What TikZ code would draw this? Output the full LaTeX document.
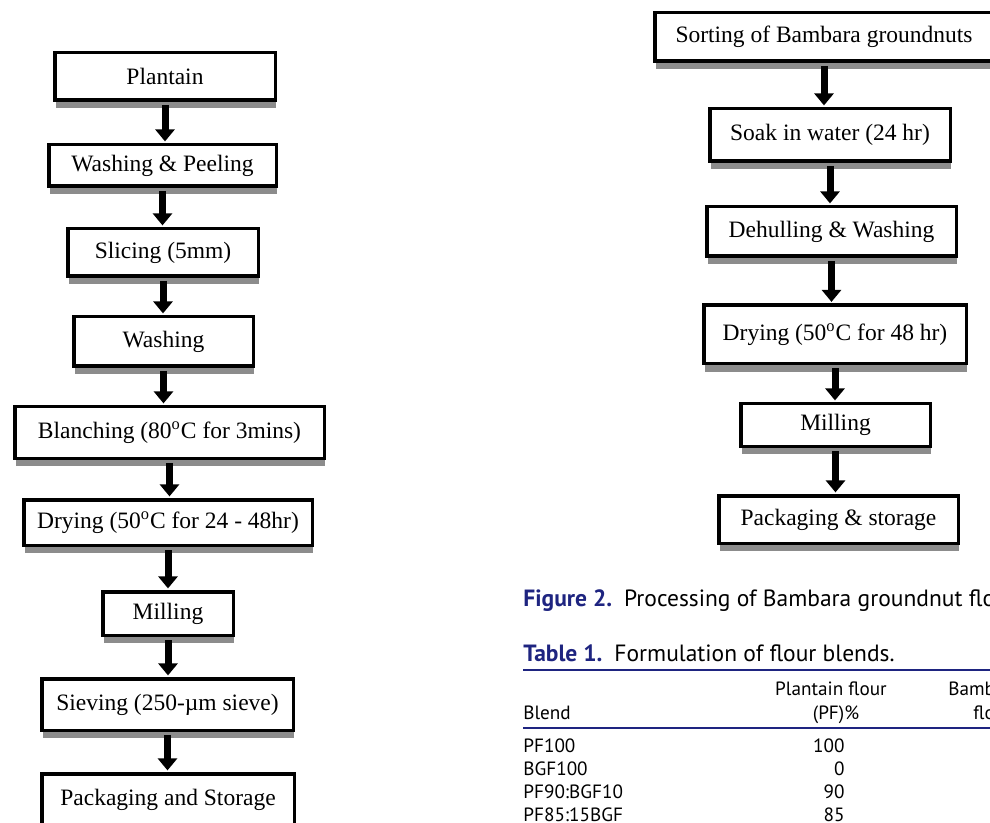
\documentclass[tikz,border=0pt]{standalone}
\usepackage{fontspec}
\setmainfont{Liberation Serif}
\newfontfamily\capfont{PT Sans}
\usetikzlibrary{arrows.meta,shadows}
\definecolor{capblue}{RGB}{30,36,128}

\begin{document}
\begin{tikzpicture}[x=0.5pt,y=-0.5pt,
    box/.style={draw,line width=1.75pt,fill=white,inner sep=0pt,font=\fontsize{11.75}{14}\selectfont,
        drop shadow={shadow xshift=0.5pt,shadow yshift=-4pt,fill=black!45,opacity=1}},
    flow/.style={line width=3.5pt,-{Triangle[width=9.5pt,length=6pt]},shorten <=1.5pt,shorten >=0.8pt},
    captext/.style={font=\capfont\fontsize{11.75}{14}\selectfont,anchor=base west,inner sep=0pt},
    tab/.style={font=\capfont\fontsize{9.6}{12}\selectfont,inner sep=0pt},
    rule/.style={draw=capblue,line width=0.8pt}]
    \useasboundingbox (0,0) rectangle (990,823);
    \clip (0,0) rectangle (990,823);
    % plantain flour
    \node[box,minimum width=110.25pt,minimum height=23.75pt] (plantain) at (165,76.5) {Plantain};
    \node[box,minimum width=113.75pt,minimum height=20.75pt] (washpeel) at (162.5,165.5) {Washing \& Peeling};
    \node[box,minimum width=95.25pt,minimum height=23.75pt] (slicing) at (163,252.5) {Slicing (5mm)};
    \node[box,minimum width=89.75pt,minimum height=24.75pt] (washing) at (163.5,341.5) {Washing};
    \node[box,minimum width=154.75pt,minimum height=25.75pt] (blanching) at (169.5,432.5) {Blanching (80\textsuperscript{o}C for 3mins)};
    \node[box,minimum width=144.25pt,minimum height=22.75pt] (drying) at (168,522.5) {Drying (50\textsuperscript{o}C for 24 - 48hr)};
    \node[box,minimum width=65.25pt,minimum height=21.75pt] (milling) at (168,613.5) {Milling};
    \node[box,minimum width=125.75pt,minimum height=25.75pt] (sieving) at (167.5,704.5) {Sieving (250-µm sieve)};
    \node[box,minimum width=126.25pt,minimum height=25.75pt] (packing) at (168,799.5) {Packaging and Storage};
    \foreach \a/\b in {plantain/washpeel,washpeel/slicing,slicing/washing,washing/blanching,blanching/drying,drying/milling,milling/sieving,sieving/packing}
        \draw[flow] (\a.south) -- (\a.south |- \b.north);
    % bambara groundnut flour
    \node[box,minimum width=169.25pt,minimum height=24.25pt] (sorting) at (824,37) {Sorting of Bambara groundnuts};
    \node[box,minimum width=120.25pt,minimum height=26.25pt] (soak) at (830,135) {Soak in water (24 hr)};
    \node[box,minimum width=124.75pt,minimum height=24.75pt] (dehull) at (831.5,231.5) {Dehulling \& Washing};
    \node[box,minimum width=131.25pt,minimum height=29.25pt] (bgdrying) at (835,334.5) {Drying (50\textsuperscript{o}C for 48 hr)};
    \node[box,minimum width=94.75pt,minimum height=21.25pt] (bgmilling) at (835.5,425) {Milling};
    \node[box,minimum width=119.75pt,minimum height=23.75pt] (bgpacking) at (838.5,519.5) {Packaging \& storage};
    \foreach \a/\b in {sorting/soak,soak/dehull,dehull/bgdrying,bgdrying/bgmilling,bgmilling/bgpacking}
        \draw[flow] (\a.south) -- (\a.south |- \b.north);
    % captions and table
    \node[captext] (figcap) at (523,606.5) {{\bfseries\color{capblue}Figure 2.}\hspace{6pt}Processing of Bambara groundnut flour.};
    \node[captext] (tabcap) at (523,661.5) {{\bfseries\color{capblue}Table 1.}\hspace{6pt}Formulation of flour blends.};
    \draw[rule] (523,670) -- (1000,670);
    \node[tab,anchor=base] (pfhead) at (831,695) {Plantain flour};
    \node[tab,anchor=base] (pfunit) at (836,719) {(PF)\%};
    \node[tab,anchor=base west] (bghead) at (948,695) {Bambara groundnut};
    \node[tab,anchor=base west] (bgunit) at (973,719) {flour (BGF)\%};
    \node[tab,anchor=base west] (blendhead) at (523,719) {Blend};
    \draw[rule] (523,728) -- (1000,728);
    \foreach \b/\p [count=\i] in {PF100/100,BGF100/0,PF90:BGF10/90,PF85:15BGF/85}{
        \node[tab,anchor=base west] (blend\i) at (523,{752+23*(\i-1)}) {\b};
        \node[tab,anchor=base east] (pf\i) at (845,{752+23*(\i-1)}) {\p};
    }
\end{tikzpicture}
\end{document}
